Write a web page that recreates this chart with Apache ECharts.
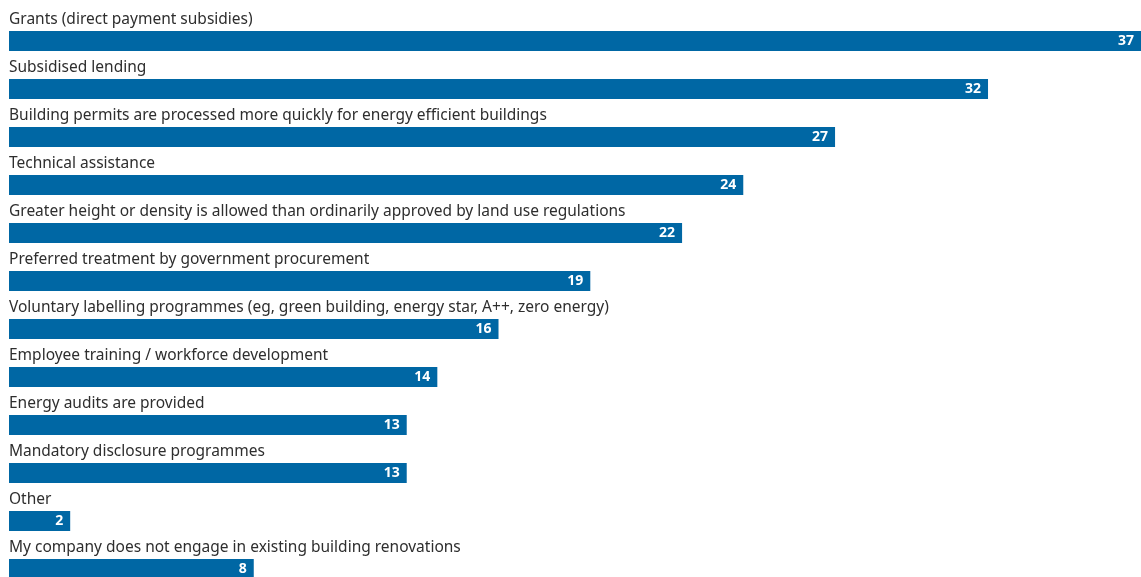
<!DOCTYPE html>
<html>
<head>
<meta charset="utf-8">
<style>
  html, body { margin: 0; padding: 0; background: #ffffff; }
  #chart { width: 1141px; height: 577px; }
</style>
<script src="https://cdn.jsdelivr.net/npm/echarts@6/dist/echarts.min.js"></script>
</head>
<body>
<div id="chart"></div>
<script>
// Incentives, number of respondents
const categories = [
  'Grants (direct payment subsidies)',
  'Subsidised lending',
  'Building permits are processed more quickly for energy efficient buildings',
  'Technical assistance',
  'Greater height or density is allowed than ordinarily approved by land use regulations',
  'Preferred treatment by government procurement',
  'Voluntary labelling programmes (eg, green building, energy star, A++, zero energy)',
  'Employee training / workforce development',
  'Energy audits are provided',
  'Mandatory disclosure programmes',
  'Other',
  'My company does not engage in existing building renovations'
];
const values = [37, 32, 27, 24, 22, 19, 16, 14, 13, 13, 2, 8];

const chart = echarts.init(document.getElementById('chart'), null, { renderer: 'canvas' });

chart.setOption({
  animation: false,
  backgroundColor: '#ffffff',
  // category points sit on the grid edges, 48px apart
  grid: { left: 9, top: 41, width: 1134, height: 528, containLabel: false },
  xAxis: {
    type: 'value', min: 0, max: 37,
    show: false
  },
  yAxis: {
    type: 'category', data: categories, inverse: true,
    boundaryGap: false,
    show: false
  },
  series: [
    {
      type: 'bar',
      data: values,
      barWidth: 20,
      itemStyle: { color: '#0067a4' },
      label: {
        show: true,
        position: 'insideRight',
        distance: 7,
        color: '#ffffff',
        fontFamily: 'Open Sans',
        fontWeight: 'bold',
        fontSize: 14
      }
    },
    {
      // category names drawn just above each bar
      type: 'bar',
      data: values,
      barWidth: 20,
      barGap: '-100%',
      silent: true,
      itemStyle: { color: 'rgba(0,0,0,0)' },
      label: {
        show: true,
        formatter: '{b}',
        position: [0, -3],
        align: 'left',
        verticalAlign: 'bottom',
        color: '#2e2e2e',
        fontFamily: 'Noto Sans',
        fontSize: 15.5
      }
    }
  ]
});
</script>
</body>
</html>
